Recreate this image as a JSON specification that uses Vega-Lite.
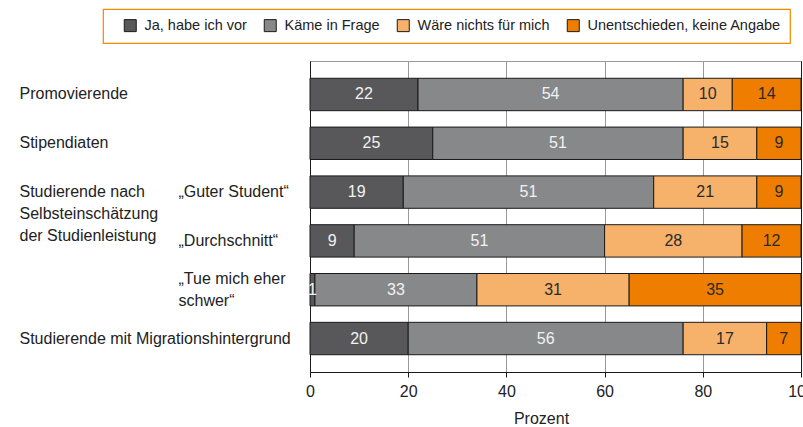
{
  "$schema": "https://vega.github.io/schema/vega-lite/v6.json",
  "width": 491,
  "height": 311,
  "autosize": "none",
  "padding": {"left": 310, "top": 61, "right": 2, "bottom": 55},
  "background": "white",
  "config": {
    "font": "Liberation Sans",
    "view": {"stroke": "#999", "strokeWidth": 1},
    "axis": {"labelColor": "#222", "titleColor": "#222"},
    "legend": {"strokeColor": "#f08a00", "fillColor": "white"}
  },
  "data": {
    "values": [
      {"row": "r1", "cat": "Ja, habe ich vor", "ord": 1, "value": 22},
      {"row": "r1", "cat": "Käme in Frage", "ord": 2, "value": 54},
      {"row": "r1", "cat": "Wäre nichts für mich", "ord": 3, "value": 10},
      {"row": "r1", "cat": "Unentschieden, keine Angabe", "ord": 4, "value": 14},
      {"row": "r2", "cat": "Ja, habe ich vor", "ord": 1, "value": 25},
      {"row": "r2", "cat": "Käme in Frage", "ord": 2, "value": 51},
      {"row": "r2", "cat": "Wäre nichts für mich", "ord": 3, "value": 15},
      {"row": "r2", "cat": "Unentschieden, keine Angabe", "ord": 4, "value": 9},
      {"row": "r3", "cat": "Ja, habe ich vor", "ord": 1, "value": 19},
      {"row": "r3", "cat": "Käme in Frage", "ord": 2, "value": 51},
      {"row": "r3", "cat": "Wäre nichts für mich", "ord": 3, "value": 21},
      {"row": "r3", "cat": "Unentschieden, keine Angabe", "ord": 4, "value": 9},
      {"row": "r4", "cat": "Ja, habe ich vor", "ord": 1, "value": 9},
      {"row": "r4", "cat": "Käme in Frage", "ord": 2, "value": 51},
      {"row": "r4", "cat": "Wäre nichts für mich", "ord": 3, "value": 28},
      {"row": "r4", "cat": "Unentschieden, keine Angabe", "ord": 4, "value": 12},
      {"row": "r5", "cat": "Ja, habe ich vor", "ord": 1, "value": 1},
      {"row": "r5", "cat": "Käme in Frage", "ord": 2, "value": 33},
      {"row": "r5", "cat": "Wäre nichts für mich", "ord": 3, "value": 31},
      {"row": "r5", "cat": "Unentschieden, keine Angabe", "ord": 4, "value": 35},
      {"row": "r6", "cat": "Ja, habe ich vor", "ord": 1, "value": 20},
      {"row": "r6", "cat": "Käme in Frage", "ord": 2, "value": 56},
      {"row": "r6", "cat": "Wäre nichts für mich", "ord": 3, "value": 17},
      {"row": "r6", "cat": "Unentschieden, keine Angabe", "ord": 4, "value": 7}
    ]
  },
  "transform": [
    {"stack": "value", "groupby": ["row"], "sort": [{"field": "ord", "order": "ascending"}], "as": ["v0", "v1"]},
    {"calculate": "(datum.v0 + datum.v1) / 2", "as": "mid"}
  ],
  "layer": [
    {
      "mark": {"type": "bar", "stroke": "#1a1a1a", "strokeWidth": 1},
      "encoding": {
        "y": {
          "field": "row", "type": "nominal",
          "scale": {"paddingInner": 0.336, "paddingOuter": 0.354},
          "axis": {
            "title": null, "ticks": false, "grid": false,
            "domain": true, "domainColor": "#1a1a1a",
            "labelAlign": "left", "labelPadding": 291, "labelFontSize": 16,
            "labelLineHeight": 22, "labelLimit": 400,
            "labelExpr": "datum.value == 'r1' ? 'Promovierende' : datum.value == 'r2' ? 'Stipendiaten' : datum.value == 'r3' ? ['Studierende nach', 'Selbsteinschätzung', 'der Studienleistung'] : datum.value == 'r6' ? 'Studierende mit Migrationshintergrund' : ''"
          }
        },
        "x": {
          "field": "v0", "type": "quantitative",
          "scale": {"domain": [0, 100], "nice": false},
          "axis": {
            "title": "Prozent", "titleFontSize": 16, "titleFontWeight": "normal",
            "titlePadding": 11, "titleX": 231,
            "values": [0, 20, 40, 60, 80, 100],
            "labelFontSize": 16, "labelPadding": 6, "labelFlush": false,
            "tickSize": 5, "tickColor": "#1a1a1a",
            "domainColor": "#1a1a1a",
            "grid": true,
            "gridColor": {"condition": {"test": "datum.value === 100", "value": "#1a1a1a"}, "value": "#999"}
          }
        },
        "x2": {"field": "v1"},
        "color": {
          "field": "cat", "type": "nominal",
          "scale": {
            "domain": ["Ja, habe ich vor", "Käme in Frage", "Wäre nichts für mich", "Unentschieden, keine Angabe"],
            "range": ["#58585a", "#87888a", "#f6b26b", "#ef7d00"]
          },
          "legend": {
            "title": null, "orient": "none", "direction": "horizontal",
            "legendX": -207, "legendY": -52,
            "strokeColor": "#f08a00", "fillColor": "white", "padding": 9,
            "symbolType": "square", "symbolSize": 144,
            "symbolStrokeColor": "#1a1a1a", "symbolStrokeWidth": 1,
            "symbolOffset": 11,
            "labelFontSize": 14.5, "labelColor": "#222", "labelOffset": 7,
            "columnPadding": 5, "labelLimit": 300,
            "encode": {
              "legend": {"update": {"stroke": {"value": "#f08a00"}, "strokeWidth": {"value": 1.2}}}
            }
          }
        }
      }
    },
    {
      "mark": {"type": "text", "fontSize": 16, "align": "center", "baseline": "middle"},
      "encoding": {
        "y": {
          "field": "row", "type": "nominal",
          "axis": {
            "orient": "left", "title": null, "ticks": false, "grid": false, "domain": false,
            "labelAlign": "left", "labelPadding": 132, "labelFontSize": 16,
            "labelLineHeight": 22, "labelLimit": 200,
            "labelOffset": {"condition": {"test": "datum.value == 'r5'", "value": -11}, "value": 0},
            "labelExpr": "datum.value == 'r3' ? '„Guter Student“' : datum.value == 'r4' ? '„Durchschnitt“' : datum.value == 'r5' ? ['„Tue mich eher', 'schwer“'] : ''"
          }
        },
        "x": {"field": "mid", "type": "quantitative"},
        "text": {"field": "value", "type": "quantitative"},
        "color": {"condition": {"test": "datum.ord <= 2", "value": "#f2f2f2"}, "value": "#2a2a2a"}
      }
    }
  ],
  "resolve": {"axis": {"y": "independent"}}
}
